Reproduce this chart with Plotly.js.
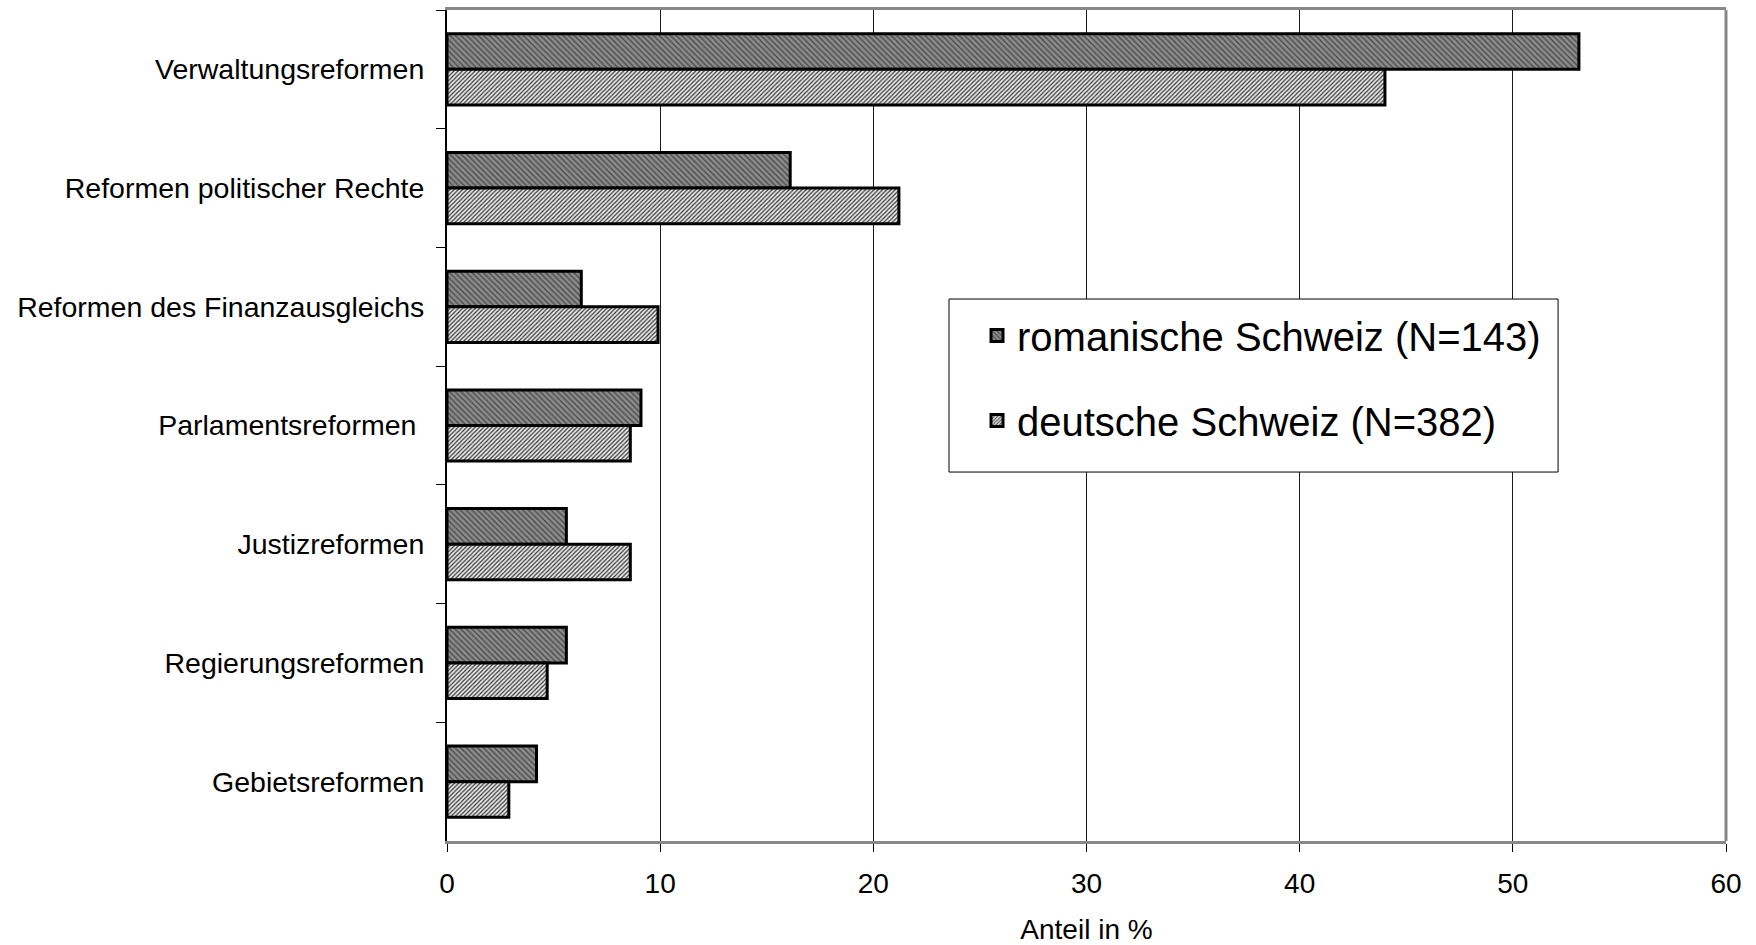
<!DOCTYPE html>
<html>
<head>
<meta charset="utf-8">
<script src="https://cdn.plot.ly/plotly-3.0.1.min.js"></script>
<style>html,body{margin:0;padding:0;background:#fff;}#chart{width:1756px;height:945px;}</style>
</head>
<body>
<div id="chart"></div>
<script>
const categories = ["Verwaltungsreformen", "Reformen politischer Rechte", "Reformen des Finanzausgleichs", "Parlamentsreformen ", "Justizreformen", "Regierungsreformen", "Gebietsreformen"];
const romanische = [53.1, 16.1, 6.3, 9.1, 5.6, 5.6, 4.2];
const deutsche = [44.0, 21.2, 9.9, 8.6, 8.6, 4.7, 2.9];
const seriesNames = ["romanische Schweiz (N=143)", "deutsche Schweiz (N=382)"];
const xTicks = [0, 10, 20, 30, 40, 50, 60];

const FONT = "Liberation Sans, Arial, sans-serif";

const traces = [
  {
    type: "bar", orientation: "h", name: seriesNames[0], legendgroup: "a",
    y: categories, x: romanische,
    marker: { color: "#8c8c8c", line: { color: "#000", width: 3 },
      pattern: { shape: "\\", fgcolor: "#4a4a4a", bgcolor: "#8c8c8c", size: 4, solidity: 0.35 } },
    hoverinfo: "x+y"
  },
  {
    type: "bar", orientation: "h", name: seriesNames[1], legendgroup: "b",
    y: categories, x: deutsche,
    marker: { color: "#d0d0d0", line: { color: "#000", width: 3 },
      pattern: { shape: "/", fgcolor: "#333333", bgcolor: "#ececec", size: 3, solidity: 0.4 } },
    hoverinfo: "x+y"
  }
];

const layout = {
  width: 1756, height: 945,
  margin: { l: 447, r: 30, t: 10, b: 104 },
  paper_bgcolor: "#fff", plot_bgcolor: "#fff",
  font: { family: FONT, color: "#000", size: 28 },
  barmode: "group", bargap: 0.40, bargroupgap: 0,
  showlegend: true,
  legend: {
    x: 0.4144, y: 0.6474, xanchor: "left", yanchor: "top",
    bgcolor: "rgba(0,0,0,0)", borderwidth: 0,
    font: { family: FONT, size: 40, color: "#000" },
    traceorder: "grouped", tracegroupgap: 30
  },
  xaxis: {
    range: [0, 60], tickvals: xTicks, ticktext: xTicks.map(String),
    showgrid: true, gridcolor: "#1a1a1a", gridwidth: 1,
    zeroline: false,
    showline: true, linecolor: "#888", linewidth: 3, mirror: true,
    ticks: "outside", ticklen: 8, tickwidth: 1, tickcolor: "#000",
    tickfont: { family: FONT, size: 28, color: "#000" },
    ticklabelstandoff: 7,
    title: { text: "Anteil in %", font: { family: FONT, size: 28, color: "#000" }, standoff: 27 },
    fixedrange: true
  },
  yaxis: {
    type: "category", autorange: "reversed",
    showgrid: false, zeroline: false,
    showline: true, linecolor: "#000", linewidth: 2,
    ticks: "outside", ticklen: 9, tickwidth: 1, tickcolor: "#000", tickson: "boundaries",
    tickfont: { family: FONT, size: 28.5, color: "#000" },
    ticklabelstandoff: 15,
    fixedrange: true
  },
  shapes: [
    { type: "line", xref: "paper", yref: "paper", x0: 1, x1: 1, y0: 0, y1: 1,
      line: { color: "#888", width: 3 } },
    { type: "rect", xref: "paper", yref: "paper", x0: 0.3925, x1: 0.8687, y0: 0.444, y1: 0.6522,
      fillcolor: "#fff", line: { color: "#000", width: 1 }, layer: "above" }
  ]
};

Plotly.newPlot("chart", traces, layout, { displayModeBar: false, staticPlot: true });
</script>
</body>
</html>
